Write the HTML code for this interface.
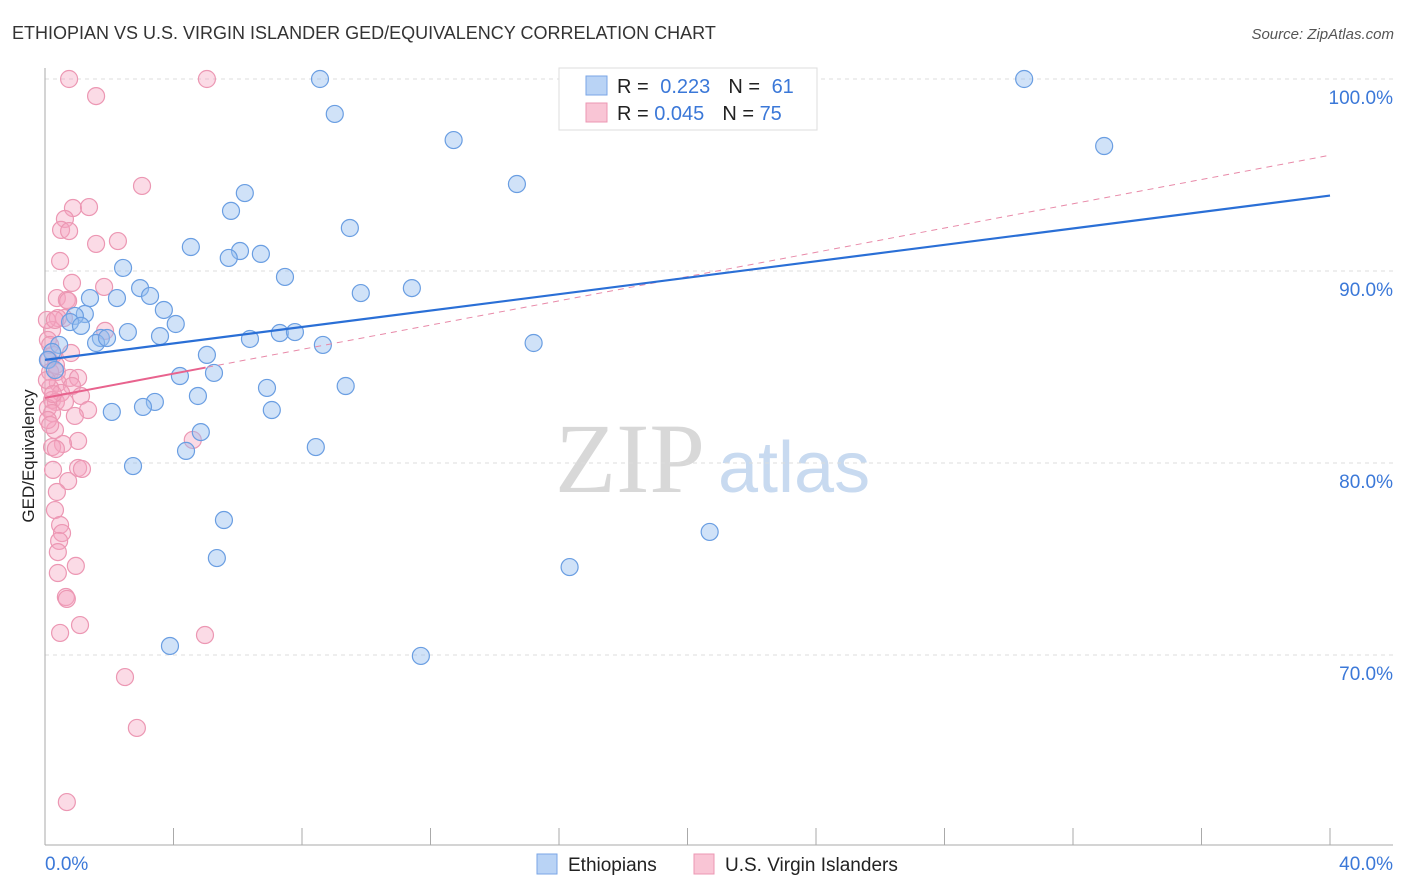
<!DOCTYPE html>
<html><head><meta charset="utf-8"><style>
body{margin:0;background:#fff;width:1406px;height:892px;overflow:hidden;font-family:"Liberation Sans",sans-serif}
svg{position:absolute;left:0;top:0}
</style></head><body>
<svg id="chart" width="1406" height="892">
<text x="12" y="39" font-size="18" fill="#333">ETHIOPIAN VS U.S. VIRGIN ISLANDER GED/EQUIVALENCY CORRELATION CHART</text>
<text x="1394" y="39" font-size="15" fill="#555" font-style="italic" text-anchor="end">Source: ZipAtlas.com</text>
<text x="555" y="492" font-size="100" fill="#d8d8d8" font-family="Liberation Serif,serif">ZIP</text>
<text x="718" y="492" font-size="72" fill="#c8daf0">atlas</text>
<text transform="translate(34,456) rotate(-90)" font-size="17" fill="#222" text-anchor="middle">GED/Equivalency</text>
<g id="grid"></g><g id="marks"></g><g id="lines"></g>
<g>
<rect x="559" y="68" width="258" height="62" fill="#fff" stroke="#ddd"/>
<rect x="586" y="76" width="21" height="19" fill="#b9d3f5" stroke="#7aa6e6"/>
<rect x="586" y="103" width="21" height="19" fill="#f9c5d5" stroke="#ec97b3"/>
<text x="617" y="93" font-size="20" fill="#222">R = <tspan fill="#3b78d8" dx="6">0.223</tspan><tspan dx="18" fill="#222">N = </tspan><tspan fill="#3b78d8" dx="6">61</tspan></text>
<text x="617" y="120" font-size="20" fill="#222">R = <tspan fill="#3b78d8">0.045</tspan><tspan dx="18" fill="#222">N = </tspan><tspan fill="#3b78d8">75</tspan></text>
</g>
<g>
<rect x="537" y="854" width="20" height="20" fill="#b9d3f5" stroke="#7aa6e6"/>
<text x="568" y="871" font-size="19" fill="#222">Ethiopians</text>
<rect x="694" y="854" width="20" height="20" fill="#f9c5d5" stroke="#ec97b3"/>
<text x="725" y="871" font-size="19" fill="#222">U.S. Virgin Islanders</text>
</g>
</svg>
<script>
const blueX=[8.56,9.02,12.72,14.69,6.22,5.79,9.49,4.54,6.07,5.72,6.72,2.43,7.47,2.96,3.27,1.40,2.24,9.83,11.42,3.70,1.24,0.93,0.78,4.07,1.12,2.58,3.58,1.74,1.59,1.93,6.38,7.31,7.78,8.65,15.21,0.44,0.22,5.04,5.26,4.20,6.91,9.36,4.76,3.42,3.05,2.08,7.06,4.85,4.39,8.43,2.74,5.57,5.35,16.33,20.69,3.89,11.70,30.48,32.97,0.09,0.31];
const blueY=[100,98.18,96.82,94.53,94.06,93.13,92.24,91.25,91.04,90.68,90.89,90.16,89.69,89.11,88.70,88.59,88.59,88.85,89.11,87.97,87.76,87.66,87.34,87.24,87.14,86.82,86.61,86.51,86.25,86.51,86.46,86.77,86.82,86.15,86.25,86.15,85.78,85.63,84.69,84.53,83.91,84.01,83.49,83.18,82.92,82.66,82.76,81.61,80.63,80.83,79.84,77.03,75.05,74.58,76.41,70.47,69.95,100,96.51,85.37,84.84];
const pinkX=[0.75,5.04,1.59,3.02,0.87,1.37,0.62,0.50,0.75,1.59,2.27,0.47,0.84,1.84,0.37,0.68,0.72,0.59,0.40,1.87,0.22,0.81,0.25,0.12,0.34,0.16,0.37,0.78,1.03,0.40,0.16,0.84,0.50,1.12,0.22,0.34,0.62,1.34,0.09,0.22,0.93,0.31,1.03,0.56,0.22,0.34,4.60,1.03,1.15,0.25,0.72,0.37,0.31,0.47,0.53,0.44,0.40,0.96,0.40,0.65,0.68,1.09,0.47,4.98,2.49,2.86,0.68,0.09,0.16,0.06,0.31,0.09,0.16,0.06,0.25];
const pinkY=[100,100,99.11,94.43,93.28,93.33,92.71,92.14,92.08,91.41,91.56,90.52,89.38,89.17,88.59,88.49,88.44,87.55,87.55,86.88,86.93,85.73,85.63,85.37,85.10,84.74,84.74,84.43,84.43,84.17,83.91,84.01,83.65,83.49,83.28,83.18,83.18,82.76,82.86,82.60,82.45,81.72,81.15,80.99,80.83,80.73,81.20,79.74,79.69,79.64,79.06,78.49,77.55,76.77,76.35,75.94,75.36,74.64,74.27,73.02,72.92,71.56,71.15,71.04,68.85,66.20,62.34,86.41,86.15,87.45,87.45,82.24,81.98,84.32,83.59];
const yTicks=[100,90,80,70];
const xTickLabels=["0.0%","40.0%"];
const blueTrend=[85.37,93.93];
const pinkTrend=[83.39,96.03];
const ns="http://www.w3.org/2000/svg";
const sx=v=>45+v/40*1285, sy=v=>79+(100-v)*19.2;
function mk(t,a,p){const e=document.createElementNS(ns,t);for(const k in a)e.setAttribute(k,a[k]);p.appendChild(e);return e;}
const grid=document.getElementById('grid'),marks=document.getElementById('marks'),lines=document.getElementById('lines');
yTicks.forEach(v=>{
 const l=mk('line',{x1:45,x2:1393,y1:sy(v),y2:sy(v),stroke:'#ddd','stroke-dasharray':'4,4'},grid);
 
 
 const t=mk('text',{x:1393,y:sy(v)+25,'text-anchor':'end','font-size':19,fill:'#3b78d8'},grid);
 t.textContent=v.toFixed(1)+'%';
 
 
});
mk('line',{x1:45,x2:45,y1:68,y2:845,stroke:'#aaa'},grid);
mk('line',{x1:45,x2:1393,y1:845,y2:845,stroke:'#aaa'},grid);
for(let i=1;i<=10;i++){const x=sx(i*4);const t=mk('line',{x1:x,x2:x,y1:828,y2:845,stroke:'#aaa'},grid);
 
 }
[[0,'start',45],[40,'end',1393]].forEach((d,i)=>{const t=mk('text',{x:d[2],y:870,'text-anchor':d[1],'font-size':19,fill:'#3b78d8'},grid);t.textContent=xTickLabels[i];
 
 });
pinkX.forEach((x,i)=>{const c=mk('circle',{cx:sx(x),cy:sy(pinkY[i]),r:8.5,fill:'rgba(245,165,192,0.4)',stroke:'#ec97b3','stroke-width':1.2},marks);
 
 });
blueX.forEach((x,i)=>{const c=mk('circle',{cx:sx(x),cy:sy(blueY[i]),r:8.5,fill:'rgba(150,190,240,0.45)',stroke:'#6a9ee2','stroke-width':1.2},marks);
 
 });
const pd=mk('line',{x1:sx(0),y1:sy(pinkTrend[0]),x2:sx(40),y2:sy(pinkTrend[1]),stroke:'#e889a8','stroke-width':1,'stroke-dasharray':'6,5'},lines);


const ps=pinkTrend[0]+(pinkTrend[1]-pinkTrend[0])*5/40;
const pl=mk('line',{x1:sx(0),y1:sy(pinkTrend[0]),x2:sx(5),y2:sy(ps),stroke:'#e8638e','stroke-width':2},lines);


const bl=mk('line',{x1:sx(0),y1:sy(blueTrend[0]),x2:sx(40),y2:sy(blueTrend[1]),stroke:'#2a6fd6','stroke-width':2.2},lines);


</script>
</body></html>
